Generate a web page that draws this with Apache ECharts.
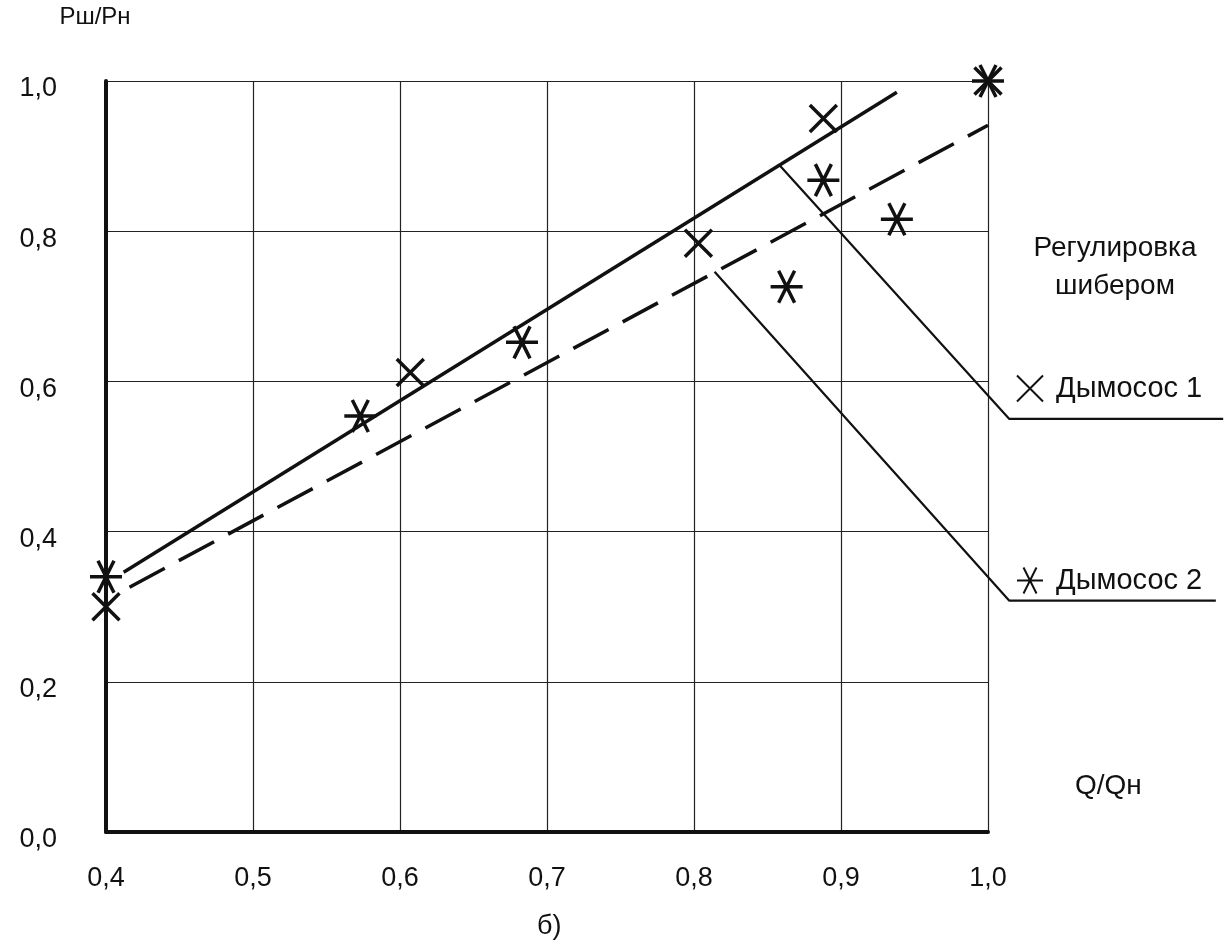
<!DOCTYPE html>
<html>
<head>
<meta charset="utf-8">
<script src="https://cdn.jsdelivr.net/npm/echarts@6/dist/echarts.min.js"></script>
<style>html,body{margin:0;padding:0;background:#fff}#c{width:1229px;height:947px}</style>
</head>
<body>
<div id="c"></div>
<script>
// ---- data ----
const xTickLabels = ['0,4','0,5','0,6','0,7','0,8','0,9','1,0'];
const yTickLabels = ['0,0','0,2','0,4','0,6','0,8','1,0'];
const fan1Points = [[0.40,0.30],[0.607,0.612],[0.803,0.784],[0.888,0.950],[1.00,1.00]];
const fan2Points = [[0.40,0.34],[0.573,0.554],[0.683,0.652],[0.863,0.726],[0.888,0.868],[0.938,0.816],[1.00,1.00]];
const fitSolid = [[0.412,0.346],[0.938,0.985]];
const fitDashed = [[0.416,0.326],[1.00,0.941]];
const leader1 = [[0.8585,0.887],[1.0145,0.550],[1.16,0.550]];
const leader2 = [[0.814,0.746],[1.0145,0.308],[1.155,0.308]];
const seriesNames = ['Дымосос 1','Дымосос 2'];

const FONT = 'Liberation Sans';
const INK = '#111';
const crossPath = 'path://M0,0L20,20M20,0L0,20';
const starPath = 'path://M0,10L20,10M5,0L15,20M15,0L5,20';

// plot geometry: the main grid spans x 0.4..1.0; the overlay grid uses the same scale
// but reaches the right edge of the page so the leader lines can run past the frame.
const GRID_LEFT = 106, GRID_RIGHT = 241, GRID_TOP = 81, GRID_BOTTOM = 115, PAGE_W = 1229;
const pxPerUnit = (PAGE_W - GRID_LEFT - GRID_RIGHT) / 0.6;
const overlayMax = 0.4 + (PAGE_W - GRID_LEFT) / pxPerUnit;

function lbl(arr, min, step){
  return function(v){ const i = Math.round((v - min)/step); return arr[i] !== undefined ? arr[i] : ''; };
}

const chart = echarts.init(document.getElementById('c'));
chart.setOption({
  backgroundColor: '#fff',
  animation: false,
  textStyle: {fontFamily: FONT, color: INK},
  grid: [
    {left: GRID_LEFT, right: GRID_RIGHT, top: GRID_TOP, bottom: GRID_BOTTOM},
    {left: GRID_LEFT, right: 0, top: GRID_TOP, bottom: GRID_BOTTOM}
  ],
  title: {
    text: 'Регулировка\nшибером',
    left: 1110, textAlign: 'center', top: 224,
    textStyle: {fontFamily: FONT, fontSize: 28, fontWeight: 'normal', color: INK, lineHeight: 38}
  },
  legend: {
    data: seriesNames,
    orient: 'vertical',
    left: 1011, top: 369,
    itemWidth: 26, itemHeight: 26, itemGap: 163,
    selectedMode: false,
    textStyle: {fontFamily: FONT, fontSize: 29, color: INK, padding: [0,0,0,8]}
  },
  xAxis: [
    {
      gridIndex: 0, type: 'value', min: 0.4, max: 1.0, interval: 0.1,
      axisLine: {show: true, onZero: false, lineStyle: {color: INK, width: 4}},
      axisTick: {show: false},
      axisLabel: {fontFamily: FONT, fontSize: 27, color: INK, margin: 33, formatter: lbl(xTickLabels, 0.4, 0.1)},
      splitLine: {show: true, lineStyle: {color: '#222', width: 1.2}}
    },
    {gridIndex: 1, type: 'value', min: 0.4, max: overlayMax, show: false}
  ],
  yAxis: [
    {
      gridIndex: 0, type: 'value', min: 0, max: 1.0, interval: 0.2,
      name: 'Рш/Рн', nameLocation: 'end', nameGap: 52,
      nameTextStyle: {fontFamily: FONT, fontSize: 24, color: INK, padding: [0,22,0,0]},
      axisLine: {show: true, onZero: false, lineStyle: {color: INK, width: 4}},
      axisTick: {show: false},
      axisLabel: {fontFamily: FONT, fontSize: 27, color: INK, margin: 49,
                  verticalAlign: 'top', lineHeight: 16, formatter: lbl(yTickLabels, 0, 0.2)},
      splitLine: {show: true, lineStyle: {color: '#222', width: 1.2}}
    },
    {gridIndex: 1, type: 'value', min: 0, max: 1.0, show: false}
  ],
  graphic: [
    {type: 'text', left: 1075, top: 772, style: {text: 'Q/Qн', font: '28px "Liberation Sans"', fill: INK}},
    {type: 'text', left: 537, top: 913, style: {text: 'б)', font: '27px "Liberation Sans"', fill: INK}}
  ],
  series: [
    {type: 'line', name: 'fit1', data: fitSolid, symbol: 'none', silent: true,
     lineStyle: {color: INK, width: 3.5}},
    {type: 'line', name: 'fit2', data: fitDashed, symbol: 'none', silent: true,
     lineStyle: {color: INK, width: 3.5, type: [40,16]}},
    {type: 'line', name: 'lead1', data: leader1, xAxisIndex: 1, yAxisIndex: 1, symbol: 'none', silent: true,
     lineStyle: {color: INK, width: 2.2}},
    {type: 'line', name: 'lead2', data: leader2, xAxisIndex: 1, yAxisIndex: 1, symbol: 'none', silent: true,
     lineStyle: {color: INK, width: 2.2}},
    {type: 'scatter', name: seriesNames[0], data: fan1Points, symbol: crossPath, symbolSize: 27, clip: false,
     itemStyle: {color: INK, borderColor: INK, borderWidth: 3.5, opacity: 1}},
    {type: 'scatter', name: seriesNames[1], data: fan2Points, symbol: starPath, symbolSize: 32, clip: false,
     itemStyle: {color: INK, borderColor: INK, borderWidth: 3.5, opacity: 1}}
  ]
});
</script>
</body>
</html>
